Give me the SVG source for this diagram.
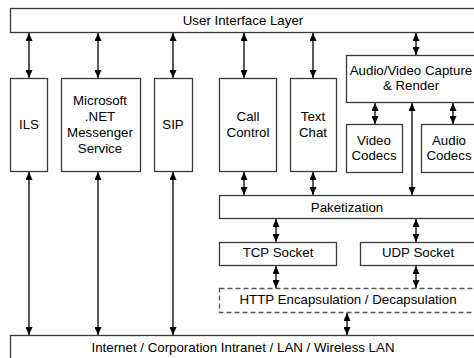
<svg xmlns="http://www.w3.org/2000/svg" width="474" height="358" viewBox="0 0 474 358">
  <style>
    .box { fill: #ffffff; stroke: #3a3a3a; stroke-width: 1.3; }
    .dash { fill: #ffffff; stroke: #555555; stroke-width: 1.3; stroke-dasharray: 5 3; }
    .lbl { font-family: "Liberation Sans", Arial, sans-serif; font-size: 13.3px; fill: #000000; text-anchor: middle; }
    .link { stroke: #000000; stroke-width: 1.3; fill: none; marker-start: url(#head); marker-end: url(#head); }
  </style>
  <defs>
    <marker id="head" viewBox="0 0 8 7" refX="8" refY="3.5" markerWidth="8" markerHeight="7" markerUnits="userSpaceOnUse" orient="auto-start-reverse">
      <path d="M0,0 L8,3.5 L0,7 Z" fill="#000000"/>
    </marker>
  </defs>
  <rect width="474" height="358" fill="#ffffff"/>

  <g id="connectors">
    <line class="link" x1="29" y1="33" x2="29" y2="78"/>
    <line class="link" x1="98" y1="33" x2="98" y2="78"/>
    <line class="link" x1="173" y1="33" x2="173" y2="78"/>
    <line class="link" x1="244" y1="33" x2="244" y2="78"/>
    <line class="link" x1="313" y1="33" x2="313" y2="78"/>
    <line class="link" x1="416" y1="33" x2="416" y2="55"/>
    <line class="link" x1="375" y1="103" x2="375" y2="124"/>
    <line class="link" x1="412" y1="103" x2="412" y2="195"/>
    <line class="link" x1="453" y1="103" x2="453" y2="124"/>
    <line class="link" x1="244" y1="172" x2="244" y2="195"/>
    <line class="link" x1="313" y1="172" x2="313" y2="195"/>
    <line class="link" x1="276" y1="219" x2="276" y2="242"/>
    <line class="link" x1="416" y1="219" x2="416" y2="242"/>
    <line class="link" x1="276" y1="266" x2="276" y2="288"/>
    <line class="link" x1="416" y1="266" x2="416" y2="288"/>
    <line class="link" x1="347" y1="313" x2="347" y2="335"/>
    <line class="link" x1="29" y1="172" x2="29" y2="335"/>
    <line class="link" x1="98" y1="172" x2="98" y2="335"/>
    <line class="link" x1="173" y1="172" x2="173" y2="335"/>
  </g>

  <g id="ui-layer">
    <rect class="box" x="10.5" y="8.5" width="466" height="24"/>
    <text class="lbl" x="243" y="25">User Interface Layer</text>
  </g>
  <g id="ils">
    <rect class="box" x="10.5" y="78.5" width="37" height="93"/>
    <text class="lbl" x="29" y="129">ILS</text>
  </g>
  <g id="messenger">
    <rect class="box" x="61.5" y="78.5" width="79" height="93"/>
    <text class="lbl" x="100" y="105">Microsoft</text>
    <text class="lbl" x="100" y="121">.NET</text>
    <text class="lbl" x="100" y="137">Messenger</text>
    <text class="lbl" x="100" y="153">Service</text>
  </g>
  <g id="sip">
    <rect class="box" x="154.5" y="78.5" width="38" height="93"/>
    <text class="lbl" x="173" y="129">SIP</text>
  </g>
  <g id="call-control">
    <rect class="box" x="219.5" y="78.5" width="57" height="93"/>
    <text class="lbl" x="248" y="121">Call</text>
    <text class="lbl" x="248" y="137">Control</text>
  </g>
  <g id="text-chat">
    <rect class="box" x="290.5" y="78.5" width="46" height="93"/>
    <text class="lbl" x="313" y="121">Text</text>
    <text class="lbl" x="313" y="137">Chat</text>
  </g>
  <g id="av-capture">
    <rect class="box" x="346.5" y="55.5" width="130" height="47"/>
    <text class="lbl" x="411" y="75">Audio/Video Capture</text>
    <text class="lbl" x="411" y="90">&amp; Render</text>
  </g>
  <g id="video-codecs">
    <rect class="box" x="346.5" y="124.5" width="56" height="48"/>
    <text class="lbl" x="374" y="145">Video</text>
    <text class="lbl" x="374" y="160">Codecs</text>
  </g>
  <g id="audio-codecs">
    <rect class="box" x="421.5" y="124.5" width="56" height="48"/>
    <text class="lbl" x="449" y="145">Audio</text>
    <text class="lbl" x="449" y="160">Codecs</text>
  </g>
  <g id="paketization">
    <rect class="box" x="219.5" y="195.5" width="257" height="23"/>
    <text class="lbl" x="347" y="212">Paketization</text>
  </g>
  <g id="tcp-socket">
    <rect class="box" x="219.5" y="242.5" width="117" height="23"/>
    <text class="lbl" x="278" y="257">TCP Socket</text>
  </g>
  <g id="udp-socket">
    <rect class="box" x="360.5" y="242.5" width="117" height="23"/>
    <text class="lbl" x="418" y="257">UDP Socket</text>
  </g>
  <g id="http-encapsulation">
    <rect class="dash" x="219.5" y="288.5" width="258" height="24"/>
    <text class="lbl" x="348" y="304">HTTP Encapsulation / Decapsulation</text>
  </g>
  <g id="network">
    <rect class="box" x="10.5" y="335.5" width="466" height="26"/>
    <text class="lbl" x="243" y="352">Internet / Corporation Intranet / LAN / Wireless LAN</text>
  </g>
</svg>
